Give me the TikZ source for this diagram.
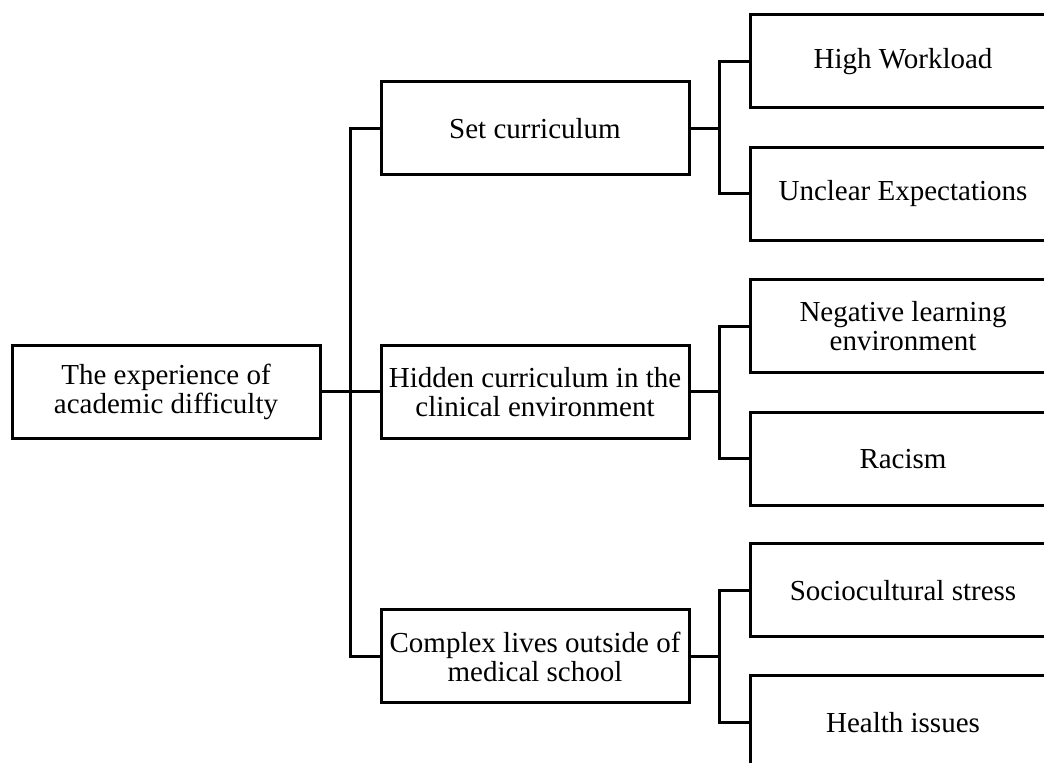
\documentclass[tikz,border=0pt]{standalone}
\usepackage{fontspec}
\setmainfont{Liberation Serif}
\usetikzlibrary{positioning,calc}
\tikzset{
	theme/.style={draw=black, line width=1.5pt, rectangle, minimum width=154pt, minimum height=46.5pt, inner sep=2pt, align=center, font=\fontsize{14.5}{14.5}\selectfont},
	subtheme/.style={theme, minimum width=153pt},
	link/.style={color=black, line width=1.5pt}
}
\begin{document}
\begin{tikzpicture}[x=0.5pt,y=-0.5pt]
	\useasboundingbox (0,0) rectangle (1044,763);
	\clip (0,0) rectangle (1044,763);

	%%Main theme
	\node[theme] (root) at (166,392) {The experience of\\academic difficulty};

	%%Themes
	\node[theme] (set) at (535,128.5) {Set curriculum};
	\node[theme] (hidden) at (535,392) {Hidden curriculum in the\\clinical environment};
	\node[theme] (complex) at (535,656.5) {Complex lives outside of\\medical school};

	%%Subthemes
	\node[subtheme] (work) at (903,61.5) {High Workload};
	\node[subtheme] (unclear) at (903,194) {Unclear Expectations};
	\node[subtheme] (negative) at (903,326.5) {Negative learning\\environment};
	\node[subtheme] (racism) at (903,459) {Racism};
	\node[subtheme] (stress) at (903,590.5) {Sociocultural stress};
	\node[subtheme] (health) at (903,722.5) {Health issues};

	%%%%%% EDGES
	\coordinate (j0) at (350,392);
	\coordinate (j1) at (719,128.5);
	\coordinate (j2) at (719,392);
	\coordinate (j3) at (719,656.5);

	%main theme to themes
	\draw[link] (root.east) -- (j0);
	\draw[link] (set.west) -| (j0) |- (complex.west);
	\draw[link] (j0) -- (hidden.west);

	%themes to subthemes
	\draw[link] (set.east) -- (j1);
	\draw[link] (work.west) -| (j1) |- (unclear.west);
	\draw[link] (hidden.east) -- (j2);
	\draw[link] (negative.west) -| (j2) |- (racism.west);
	\draw[link] (complex.east) -- (j3);
	\draw[link] (stress.west) -| (j3) |- (health.west);

\end{tikzpicture}
\end{document}
